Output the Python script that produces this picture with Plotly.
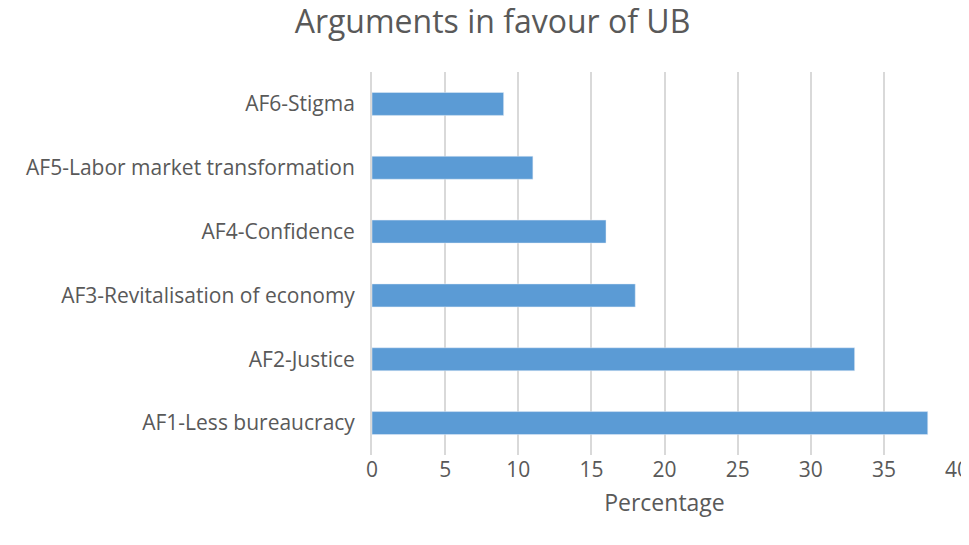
import plotly.graph_objects as go

categories = ["AF1-Less bureaucracy", "AF2-Justice", "AF3-Revitalisation of economy",
              "AF4-Confidence", "AF5-Labor market transformation", "AF6-Stigma"]
values = [38, 33, 18, 16, 11, 9]
x_ticks = [0, 5, 10, 15, 20, 25, 30, 35, 40]

font_color = "#595959"

fig = go.Figure(go.Bar(
    x=values, y=categories, orientation="h",
    marker_color="#5B9BD5", width=0.36,
))

fig.update_layout(
    width=969, height=545,
    paper_bgcolor="white", plot_bgcolor="white",
    margin=dict(l=364, r=20, t=64, b=98, autoexpand=False),
    font=dict(family="Open Sans", color=font_color, size=21),
    title=dict(text="Arguments in favour of UB", x=0.5, xanchor="center",
               y=0.995, yanchor="top", font=dict(size=32, color=font_color)),
    showlegend=False,
)
fig.update_xaxes(range=[0, 40], tickvals=x_ticks, showgrid=True,
                 gridcolor="#D9D9D9", gridwidth=2, zeroline=False,
                 title=dict(text="Percentage", font=dict(size=23), standoff=12),
                 ticks="", tickfont=dict(size=21))
fig.update_yaxes(showline=True, linecolor="#D9D9D9", linewidth=2,
                 ticks="", ticksuffix="  ", tickfont=dict(size=21))

fig.write_html("out.html")
